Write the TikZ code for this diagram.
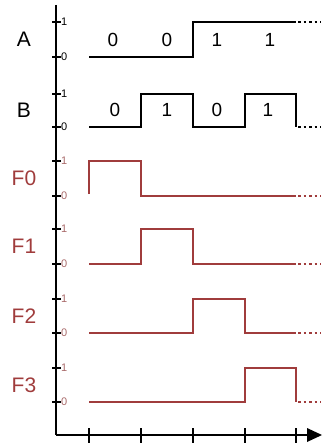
\documentclass[tikz,border=0pt]{standalone}
\usepackage{fontspec}
\setmainfont{Liberation Sans}
\usepackage{xcolor}
\usetikzlibrary{arrows.meta}
\definecolor{sigred}{HTML}{A03C3C}
\definecolor{ticktext}{HTML}{A86A6A}

\begin{document}
\begin{tikzpicture}[x=1pt, y=-1pt,
    axisline/.style={line width=2.2pt, black},
    wave/.style={line width=2pt, line join=miter},
    tail/.style={line width=2.2pt, dash pattern=on 2.5pt off 3pt},
    rowlab/.style={font=\fontsize{21}{21}\selectfont, inner sep=0pt},
    bitlab/.style={font=\fontsize{19}{19}\selectfont, inner sep=0pt},
    ticklab/.style={font=\fontsize{11}{11}\selectfont, inner sep=0pt, anchor=west}]
  \useasboundingbox (0,0) rectangle (324,446);
  % axes
  \coordinate (orig) at (56,435);
  \coordinate (top) at (56,5);
  \coordinate (xend) at (322,435);
  \draw[axisline] (top) -- (orig);
  \draw[axisline] (orig) -- (310,435);
  \fill[black] (xend) -- (307,428) -- (307,442) -- cycle;
  \foreach \t in {89,141,193,245,296}
    \draw[axisline] (\t,428) -- (\t,443);
  % rows: name / level 0 / level 1 / colour / tick text
  \foreach \lab/\lo/\hi/\col/\tc in {A/57/22/black/black, B/127/94/black/black,
      F0/196/161/sigred/ticktext, F1/264/229/sigred/ticktext,
      F2/333/299/sigred/ticktext, F3/402/368/sigred/ticktext} {
    \draw[axisline] (52,\lo) -- (61,\lo);
    \draw[axisline] (52,\hi) -- (61,\hi);
    \node[ticklab, text=\tc] (zero\lab) at (61,\lo) {0};
    \node[ticklab, text=\tc] (one\lab) at (61,\hi) {1};
    \node[rowlab, text=\col] (lbl\lab) at (24,{(\lo+\hi)/2}) {\lab};
  }
  % signals
  \draw[wave] (89,57) -- (193,57) -- (193,22) -- (296,22);
  \draw[tail] (298,22) -- (321,22);
  \draw[wave] (89,127) -- (141,127) -- (141,94) -- (193,94) -- (193,127)
    -- (245,127) -- (245,94) -- (296,94) -- (296,127);
  \draw[tail] (298,127) -- (321,127);
  \begin{scope}[sigred]
    \draw[wave] (89,194) -- (89,161) -- (141,161) -- (141,196) -- (296,196);
    \draw[tail] (298,196) -- (321,196);
    \draw[wave] (89,264) -- (141,264) -- (141,229) -- (193,229) -- (193,264) -- (296,264);
    \draw[tail] (298,264) -- (321,264);
    \draw[wave] (89,333) -- (193,333) -- (193,299) -- (245,299) -- (245,333) -- (296,333);
    \draw[tail] (298,333) -- (321,333);
    \draw[wave] (89,402) -- (245,402) -- (245,368) -- (296,368) -- (296,402);
    \draw[tail] (298,402) -- (321,402);
  \end{scope}
  % bit values
  \foreach \x/\v [count=\i] in {113/0,167/0,217/1,270/1}
    \node[bitlab] (bitA\i) at (\x,40) {\v};
  \foreach \x/\v [count=\i] in {115/0,167/1,217/0,268/1}
    \node[bitlab] (bitB\i) at (\x,110) {\v};
\end{tikzpicture}
\end{document}
